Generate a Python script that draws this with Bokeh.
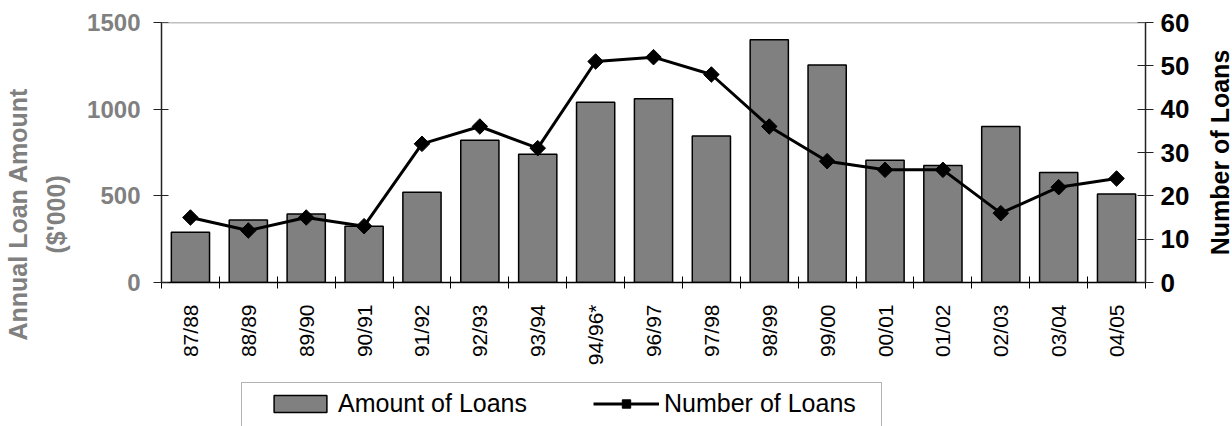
from bokeh.plotting import figure
from bokeh.models import (Range1d, LinearAxis, FixedTicker, Legend, LegendItem,
                          Span, ColumnDataSource, Title, BoxAnnotation, Label)
from bokeh.layouts import column, row
from bokeh.embed import file_html
from bokeh.resources import INLINE
import math

# ---- data ----
years = ["87/88", "88/89", "89/90", "90/91", "91/92", "92/93", "93/94", "94/96*",
         "96/97", "97/98", "98/99", "99/00", "00/01", "01/02", "02/03", "03/04", "04/05"]
loan_amount = [290, 360, 395, 325, 520, 820, 740, 1040, 1060, 845, 1400, 1255,
               705, 675, 900, 635, 510]
loan_count = [15, 12, 15, 13, 32, 36, 31, 51, 52, 48, 36, 28, 26, 26, 16, 22, 24]
left_ticks = [0, 500, 1000, 1500]
right_ticks = [0, 10, 20, 30, 40, 50, 60]
left_title_lines = ["Annual Loan Amount", "($'000)"]
right_title = "Number of Loans"
series_names = ["Amount of Loans", "Number of Loans"]

FONT = "Liberation Sans"
GRAY = "#808080"
W, H_MAIN, H_LEG = 1232, 372, 54
RT_W = 40                      # strip on the right holding the right-hand title
BL, BT, BB = 161, 22, 90       # borders of the main plot
FRAME_R = 1147                 # right edge of the plotting area

n = len(years)
pos = list(range(1, n + 1))
src = ColumnDataSource(dict(x=pos, amount=loan_amount, count=loan_count, year=years))

p = figure(width=W - RT_W, height=H_MAIN, output_backend="svg", toolbar_location=None,
           x_range=Range1d(0.5, n + 0.5), y_range=Range1d(0, 1500),
           min_border_left=BL, min_border_right=W - RT_W - FRAME_R,
           min_border_top=BT, min_border_bottom=BB)
p.extra_y_ranges = {"right": Range1d(0, 60)}
p.outline_line_color = None
p.grid.visible = False
p.background_fill_color = "white"
p.border_fill_color = "white"

bar_style = dict(fill_color=GRAY, line_color="black", line_width=1.5)
line_style = dict(line_color="black", line_width=3)
pt_style = dict(marker="square", angle=math.pi / 4, size=11,
                fill_color="black", line_color="black")

p.vbar(x="x", top="amount", width=0.66, source=src, **bar_style)
p.line(x="x", y="count", source=src, y_range_name="right", **line_style)
p.scatter(x="x", y="count", source=src, y_range_name="right", **pt_style)

# top border line (gray)
p.add_layout(Span(location=1500, dimension="width", line_color=GRAY, line_width=1.5))

# x axis
xa = p.xaxis[0]
xa.ticker = FixedTicker(ticks=pos, minor_ticks=[i + 0.5 for i in range(n + 1)])
xa.major_label_overrides = {i: y for i, y in zip(pos, years)}
xa.major_label_orientation = math.pi / 2
xa.major_tick_line_color = None
xa.major_tick_in = 0
xa.major_tick_out = 0
xa.minor_tick_in = 6
xa.minor_tick_out = 6
xa.minor_tick_line_color = "black"
xa.axis_line_color = "black"
xa.axis_line_width = 1.5
xa.major_label_standoff = 16
xa.major_label_text_font = FONT
xa.major_label_text_font_size = "21px"
xa.major_label_text_color = "black"

# left axis
ya = p.yaxis[0]
ya.ticker = FixedTicker(ticks=left_ticks)
ya.axis_line_color = "#222222"
ya.axis_line_width = 1.5
ya.major_tick_line_color = "#222222"
ya.major_tick_out = 8
ya.major_tick_in = 7
ya.minor_tick_line_color = None
ya.major_label_standoff = 13
ya.major_label_text_font = FONT
ya.major_label_text_font_style = "bold"
ya.major_label_text_font_size = "24px"
ya.major_label_text_color = GRAY

# left title as two lines (nearest line first)
t2 = Title(text=left_title_lines[1], align="left", offset=29, vertical_align="middle",
           standoff=28, text_font=FONT, text_font_style="bold", text_font_size="25px",
           text_color=GRAY)
t1 = Title(text=left_title_lines[0], align="left", offset=-58, vertical_align="middle",
           standoff=0, text_font=FONT, text_font_style="bold", text_font_size="25px",
           text_color=GRAY)
try:
    t1.standoff = -12
except Exception:
    pass
p.add_layout(t2, "left")
p.add_layout(t1, "left")

# right axis (ticks and labels; its title lives in the strip to the right)
ra = LinearAxis(y_range_name="right", ticker=FixedTicker(ticks=right_ticks))
ra.axis_line_color = "#222222"
ra.axis_line_width = 1.5
ra.major_tick_line_color = "#222222"
ra.major_tick_out = 8
ra.major_tick_in = 8
ra.minor_tick_line_color = None
ra.major_label_standoff = 7
ra.major_label_text_font = FONT
ra.major_label_text_font_style = "bold"
ra.major_label_text_font_size = "26px"
ra.major_label_text_color = "black"
p.add_layout(ra, "right")

# ---- right title strip: frame matches the plot's vertical extent ----
rt = figure(width=RT_W, height=H_MAIN, output_backend="svg", toolbar_location=None,
            x_range=Range1d(0, RT_W), y_range=Range1d(0, H_MAIN - BT - BB),
            x_axis_type=None, y_axis_type=None,
            min_border_left=0, min_border_right=0,
            min_border_top=BT, min_border_bottom=BB)
rt.outline_line_color = None
rt.grid.visible = False
rt.background_fill_color = "white"
rt.border_fill_color = "white"
rt.add_layout(Label(x=27, y=(H_MAIN - BT - BB) / 2, text=right_title,
                    angle=math.pi / 2, text_align="center", text_baseline="middle",
                    text_font=FONT, text_font_style="bold", text_font_size="25px",
                    text_color="black"))

# ---- legend strip (separate figure; ranges in pixels of its frame) ----
leg = figure(width=W, height=H_LEG, output_backend="svg", toolbar_location=None,
             x_range=Range1d(BL, FRAME_R), y_range=Range1d(H_LEG, 0),
             x_axis_type=None, y_axis_type=None,
             min_border_left=BL, min_border_right=W - FRAME_R,
             min_border_top=0, min_border_bottom=0)
leg.outline_line_color = None
leg.grid.visible = False
leg.background_fill_color = "white"
leg.border_fill_color = "white"
# hidden renderers that only supply the legend swatches (same styles as the plot)
lb = leg.vbar(x="x", top="amount", width=0.66, source=src, visible=False, **bar_style)
ll = leg.line(x="x", y="count", source=src, visible=False, **line_style)
lp = leg.scatter(x="x", y="count", source=src, visible=False, **pt_style)
leg.add_layout(BoxAnnotation(left=241, right=881, top=10, bottom=80,
                             fill_color=None, line_color="black", line_width=1))
legend = Legend(items=[LegendItem(label=series_names[0], renderers=[lb]),
                       LegendItem(label=series_names[1], renderers=[ll, lp])],
                location=(267 - BL, 8), orientation="horizontal",
                border_line_color=None, background_fill_alpha=0,
                inactive_fill_alpha=0,
                padding=0, margin=0, spacing=66, label_standoff=5,
                glyph_width=66, glyph_height=21,
                label_text_font=FONT, label_text_font_size="25px",
                label_text_color="black")
leg.add_layout(legend, "center")

layout = column(row(p, rt, spacing=0), leg, spacing=0)
open("out.html", "w").write(file_html(layout, INLINE))
